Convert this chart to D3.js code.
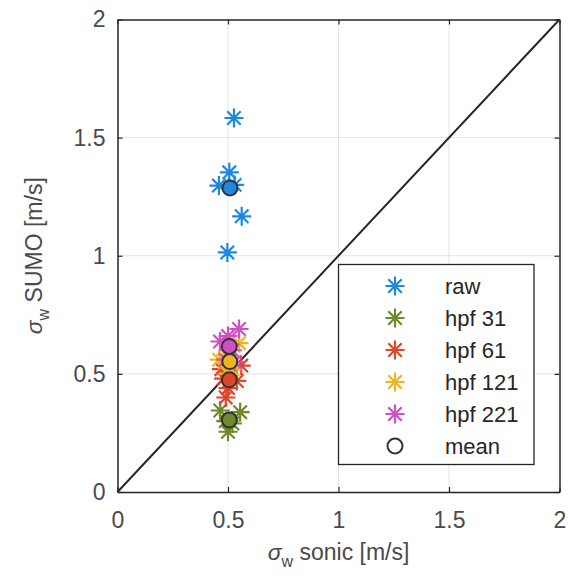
<!DOCTYPE html>
<html>
<head>
<meta charset="utf-8">
<script src="https://cdn.jsdelivr.net/npm/d3@7"></script>
<style>
  body { margin: 0; background: #fff; }
  text { font-family: "Liberation Sans", Arial, sans-serif; }
</style>
</head>
<body>
<script>
const WIDTH = 568;
const HEIGHT = 583;

// datos (sigma_w sonic, sigma_w SUMO)
const seriesNames = ["raw", "hpf 31", "hpf 61", "hpf 121", "hpf 221"];
const seriesColors = ["#1e88e0", "#6f8a2a", "#e0452a", "#eeb521", "#cf50c4"];

const rawX = [0.527, 0.506, 0.459, 0.530, 0.562, 0.497];
const rawY = [1.583, 1.353, 1.297, 1.300, 1.167, 1.014];
const hpf31X = [0.465, 0.555, 0.500, 0.490, 0.520, 0.505];
const hpf31Y = [0.345, 0.338, 0.255, 0.300, 0.290, 0.300];
const hpf61X = [0.560, 0.470, 0.500, 0.490, 0.540, 0.480];
const hpf61Y = [0.535, 0.520, 0.440, 0.400, 0.470, 0.480];
const hpf121X = [0.460, 0.550, 0.520, 0.490, 0.510, 0.500];
const hpf121Y = [0.560, 0.630, 0.520, 0.580, 0.530, 0.500];
const hpf221X = [0.550, 0.464, 0.500, 0.520, 0.490, 0.530];
const hpf221Y = [0.690, 0.637, 0.660, 0.600, 0.560, 0.550];

const meanX = [0.509, 0.506, 0.506, 0.508, 0.506];
const meanY = [1.287, 0.305, 0.475, 0.552, 0.616];

const ticks = [0, 0.5, 1, 1.5, 2];
const tickLabels = ["0", "0.5", "1", "1.5", "2"];

const allX = [rawX, hpf31X, hpf61X, hpf121X, hpf221X];
const allY = [rawY, hpf31Y, hpf61Y, hpf121Y, hpf221Y];

const margen = { left: 117.5, right: 8.5, top: 19.5, bottom: 91 };

const SVG = d3.select("body")
  .append("svg")
  .attr("width", WIDTH)
  .attr("height", HEIGHT);

const x = d3.scaleLinear().domain([0, 2]).range([margen.left, WIDTH - margen.right]);
const y = d3.scaleLinear().domain([0, 2]).range([HEIGHT - margen.bottom, margen.top]);

// grilla
const grilla = SVG.append("g").attr("stroke", "#e3e3e3").attr("stroke-width", 1);
grilla.selectAll("line.gx")
  .data(ticks.slice(1, -1))
  .join("line")
  .attr("class", "gx")
  .attr("x1", (d) => x(d)).attr("x2", (d) => x(d))
  .attr("y1", y(0)).attr("y2", y(2));
grilla.selectAll("line.gy")
  .data(ticks.slice(1, -1))
  .join("line")
  .attr("class", "gy")
  .attr("y1", (d) => y(d)).attr("y2", (d) => y(d))
  .attr("x1", x(0)).attr("x2", x(2));

// linea 1:1
SVG.append("line")
  .attr("x1", x(0)).attr("y1", y(0))
  .attr("x2", x(2)).attr("y2", y(2))
  .attr("stroke", "#262626")
  .attr("stroke-width", 2);

// ejes con ticks hacia adentro en los cuatro lados
const fmt = (d) => tickLabels[ticks.indexOf(d)];
const ejeAbajo = d3.axisBottom(x).tickValues(ticks).tickFormat(fmt).tickSizeInner(-5).tickSizeOuter(0).tickPadding(20);
const ejeIzq = d3.axisLeft(y).tickValues(ticks).tickFormat(fmt).tickSizeInner(-5).tickSizeOuter(0).tickPadding(12);
const ejeArriba = d3.axisTop(x).tickValues(ticks).tickFormat("").tickSizeInner(-5).tickSizeOuter(0);
const ejeDer = d3.axisRight(y).tickValues(ticks).tickFormat("").tickSizeInner(-5).tickSizeOuter(0);

const estiloEje = (g) => {
  g.select(".domain").attr("stroke", "#262626").attr("stroke-width", 1.5);
  g.selectAll(".tick line").attr("stroke", "#262626").attr("stroke-width", 1.2);
  g.selectAll(".tick text")
    .attr("fill", "#4a4a4a")
    .attr("font-size", 23)
    .attr("font-family", "'Liberation Sans', Arial, sans-serif");
};

SVG.append("g").attr("transform", `translate(0,${y(0)})`).call(ejeAbajo).call(estiloEje);
SVG.append("g").attr("transform", `translate(${x(0)},0)`).call(ejeIzq).call(estiloEje);
SVG.append("g").attr("transform", `translate(0,${y(2)})`).call(ejeArriba).call(estiloEje);
SVG.append("g").attr("transform", `translate(${x(2)},0)`).call(ejeDer).call(estiloEje);

// marcador asterisco de 8 brazos
const estrella = (r) => {
  const a = r * Math.SQRT1_2;
  return `M${-r},0L${r},0M0,${-r}L0,${r}M${-a},${-a}L${a},${a}M${-a},${a}L${a},${-a}`;
};

const puntos = SVG.append("g");
seriesNames.forEach((nombre, i) => {
  const datos = d3.zip(allX[i], allY[i]);
  puntos.append("g")
    .selectAll("path")
    .data(datos)
    .join("path")
    .attr("d", estrella(9.5))
    .attr("transform", (d) => `translate(${x(d[0])},${y(d[1])})`)
    .attr("stroke", seriesColors[i])
    .attr("stroke-width", 2.2)
    .attr("fill", "none");
});

// medias
SVG.append("g")
  .selectAll("circle")
  .data(d3.range(seriesNames.length))
  .join("circle")
  .attr("cx", (i) => x(meanX[i]))
  .attr("cy", (i) => y(meanY[i]))
  .attr("r", 7.5)
  .attr("fill", (i) => seriesColors[i])
  .attr("stroke", "#333")
  .attr("stroke-width", 2);

// leyenda
const leyenda = SVG.append("g");
leyenda.append("rect")
  .attr("x", 338.5).attr("y", 264.5)
  .attr("width", 195.5).attr("height", 200)
  .attr("fill", "#fff")
  .attr("stroke", "#262626")
  .attr("stroke-width", 1.3);

const filas = seriesNames.concat(["mean"]);
const filaY = (i) => 286 + i * 32;
filas.forEach((nombre, i) => {
  if (i < seriesNames.length) {
    leyenda.append("path")
      .attr("d", estrella(9.5))
      .attr("transform", `translate(395,${filaY(i)})`)
      .attr("stroke", seriesColors[i])
      .attr("stroke-width", 2.2)
      .attr("fill", "none");
  } else {
    leyenda.append("circle")
      .attr("cx", 395).attr("cy", filaY(i))
      .attr("r", 7.5)
      .attr("fill", "none")
      .attr("stroke", "#333")
      .attr("stroke-width", 2);
  }
  leyenda.append("text")
    .attr("x", 445).attr("y", filaY(i))
    .attr("dy", "0.35em")
    .attr("font-size", 22)
    .attr("fill", "#262626")
    .text(nombre);
});

// titulos de ejes
const tx = SVG.append("text")
  .attr("x", (x(0) + x(2)) / 2)
  .attr("y", 560)
  .attr("text-anchor", "middle")
  .attr("font-size", 23)
  .attr("fill", "#4a4a4a");
tx.append("tspan").text("σ").attr("font-style", "italic");
tx.append("tspan").text("w").attr("font-size", 16).attr("dy", 7);
tx.append("tspan").text(" sonic [m/s]").attr("dy", -7);

const ty = SVG.append("text")
  .attr("transform", `translate(42,${(y(0) + y(2)) / 2}) rotate(-90)`)
  .attr("text-anchor", "middle")
  .attr("font-size", 23)
  .attr("fill", "#4a4a4a");
ty.append("tspan").text("σ").attr("font-style", "italic");
ty.append("tspan").text("w").attr("font-size", 16).attr("dy", 7);
ty.append("tspan").text(" SUMO [m/s]").attr("dy", -7);
</script>
</body>
</html>
